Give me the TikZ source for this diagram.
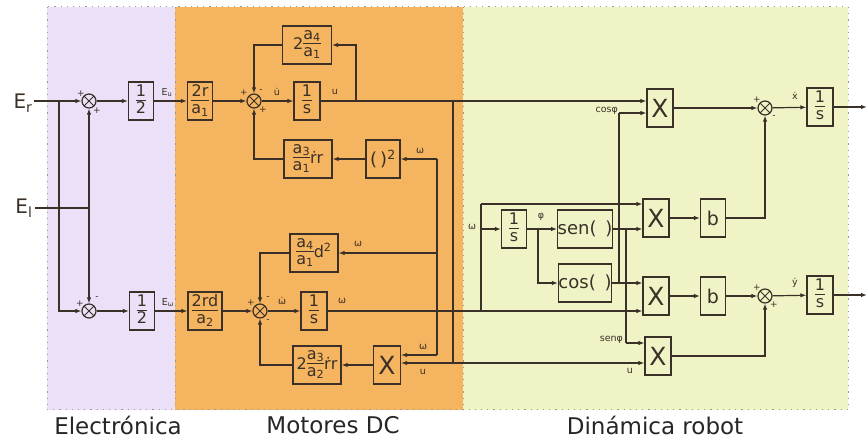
\documentclass[tikz,border=0pt]{standalone}
\usepackage{fontspec}
\setmainfont{DejaVu Sans}
\usetikzlibrary{arrows.meta}
\definecolor{lav}{HTML}{ECE0F8}
\definecolor{org}{HTML}{F5B45F}
\definecolor{ylw}{HTML}{F0F3C6}
\definecolor{ln}{HTML}{3A3028}
\newcommand{\fr}[2]{{\renewcommand{\arraystretch}{0.8}\setlength{\arrayrulewidth}{0.7pt}\begin{tabular}{@{}c@{}}#1\\\hline\rule{0pt}{12.5pt}#2\end{tabular}}}
\begin{document}
\begin{tikzpicture}[x=1pt,y=-1pt,line width=1.2pt,
  blk/.style={draw=ln,inner sep=0pt,minimum height=38pt,text=ln,font=\fontsize{16}{17}\selectfont},
  bigx/.style={blk,font=\fontsize{25}{25}\selectfont},
  sumn/.style={circle,draw=ln,minimum size=14pt,inner sep=0pt,
    path picture={\draw[ln,line width=0.9pt] (path picture bounding box.north west) -- (path picture bounding box.south east)
      (path picture bounding box.north east) -- (path picture bounding box.south west);}},
  arr/.style={draw=ln,-{Latex[length=6pt,width=4.5pt]}},
  wire/.style={draw=ln},
  lbl/.style={text=ln,inner sep=0.5pt,font=\fontsize{9.5}{10}\selectfont},
  sg/.style={text=ln,inner sep=0pt,font=\fontsize{9}{9}\selectfont},
  reg/.style={text=black!85,font=\fontsize{23}{23}\selectfont}]
\useasboundingbox (0,0) rectangle (868,438);
% regions
\fill[lav] (47,7) rectangle (175,410);
\fill[org] (175,7) rectangle (463,410);
\fill[ylw] (463,7) rectangle (848,410);
\draw[gray!80,line width=1pt,dash pattern=on 1.2pt off 5pt] (47,7) rectangle (848,410) (175,7) -- (175,410) (463,7) -- (463,410);
\node[reg] (tE) at (118,425) {Electrónica};
\node[reg] (tM) at (333,425) {Motores DC};
\node[reg] (tD) at (655,425) {Dinámica robot};
% inputs
\node[text=ln,inner sep=0pt,anchor=base east,font=\fontsize{20}{20}\selectfont] (Er) at (33,109) {E\textsubscript{r}};
\node[text=ln,inner sep=0pt,anchor=base east,font=\fontsize{20}{20}\selectfont] (El) at (33,214) {E\textsubscript{l}};
\coordinate (ErO) at (34,101);
\coordinate (ElO) at (35,208);
% blocks
\node[sumn] (s1) at (89,101) {};
\node[sumn] (s2) at (89,311) {};
\node[blk,minimum width=25pt] (h1) at (141,101) {\fr{1}{2}};
\node[blk,minimum width=25pt] (h2) at (142,311) {\fr{1}{2}};
\node[blk,minimum width=25pt] (k1) at (200,101) {\fr{2r}{a\textsubscript{1}}};
\node[blk,minimum width=34pt] (k2) at (205,311) {\fr{2rd}{a\textsubscript{2}}};
\node[sumn] (s3) at (254,101) {};
\node[sumn] (s4) at (260,311) {};
\node[blk,minimum width=49pt] (f1) at (307,45) {2\fr{a\textsubscript{4}}{a\textsubscript{1}}};
\node[blk,minimum width=26pt] (i1) at (307,101) {\fr{1}{s}};
\node[blk,minimum width=48pt] (g1) at (308,159) {\fr{a\textsubscript{3}}{a\textsubscript{1}}ṙr};
\node[blk,minimum width=34pt,font=\fontsize{18}{18}\selectfont] (sq) at (383,159) {(\hspace{3pt})\textsuperscript{2}};
\node[blk,minimum width=48pt] (f2) at (314,253) {\fr{a\textsubscript{4}}{a\textsubscript{1}}d\textsuperscript{2}};
\node[blk,minimum width=26pt] (i2) at (314,311) {\fr{1}{s}};
\node[blk,minimum width=48pt] (g2) at (317,365) {2\fr{a\textsubscript{3}}{a\textsubscript{2}}ṙr};
\node[bigx,minimum width=27pt] (xm) at (387,365) {X};
\node[blk,minimum width=25pt] (i3) at (514,229) {\fr{1}{s}};
\node[blk,minimum width=53pt,font=\fontsize{18}{18}\selectfont] (sen) at (585,229) {sen(\ \,)};
\node[blk,minimum width=53pt,font=\fontsize{18}{18}\selectfont] (cos) at (585,283) {cos(\ \,)};
\node[bigx,minimum width=26pt] (X0) at (660,108) {X};
\node[bigx,minimum width=26pt] (X1) at (656,218) {X};
\node[bigx,minimum width=26pt] (X2) at (656,296) {X};
\node[bigx,minimum width=26pt] (X3) at (658,356) {X};
\node[blk,minimum width=25pt,font=\fontsize{19}{19}\selectfont] (b1) at (713,218) {b};
\node[blk,minimum width=25pt,font=\fontsize{19}{19}\selectfont] (b2) at (713,296) {b};
\node[sumn] (sx) at (765,108) {};
\node[sumn] (sy) at (765,296) {};
\node[blk,minimum width=26pt] (ix) at (820,107) {\fr{1}{s}};
\node[blk,minimum width=26pt] (iy) at (820,295) {\fr{1}{s}};
\coordinate (ox) at (867,107);
\coordinate (oy) at (867,295);
% signs
\node[sg] (p1a) at (81,94) {+};
\node[sg] (p1b) at (97,111) {+};
\node[sg] (p2a) at (80,304) {+};
\node[sg] (p2b) at (97,298) {-};
\node[sg] (p3a) at (244,93) {+};
\node[sg] (p3b) at (261,91) {-};
\node[sg] (p3c) at (263,110) {+};
\node[sg] (p4a) at (251,303) {+};
\node[sg] (p4b) at (268,298) {-};
\node[sg] (p4c) at (268,321) {-};
\node[sg] (pxa) at (757,100) {+};
\node[sg] (pxb) at (774,117) {-};
\node[sg] (pya) at (757,288) {+};
\node[sg] (pyb) at (774,305) {+};
% labels
\node[lbl] (lEu) at (167,93) {E\textsubscript{u}};
\node[lbl] (lEw) at (168,303) {E\textsubscript{ω}};
\node[lbl] (lud) at (277,92) {u̇};
\node[lbl] (lu) at (335,92) {u};
\node[lbl] (lwd) at (282,301) {ω̇};
\node[lbl] (lw) at (342,301) {ω};
\node[lbl] (lw1) at (420,151) {ω};
\node[lbl] (lw2) at (358,244) {ω};
\node[lbl] (lw3) at (423,347) {ω};
\node[lbl] (lu3) at (423,372) {u};
\node[lbl] (lw4) at (472,227) {ω};
\node[lbl] (lphi) at (541,217) {φ};
\node[lbl,anchor=east] (lcos) at (619,111) {cosφ};
\node[lbl,anchor=east] (lsen) at (624,340) {senφ};
\node[lbl] (lu4) at (630,371) {u};
\node[lbl] (lxd) at (795,96) {ẋ};
\node[lbl] (lyd) at (795,283) {ẏ};
% electronics wiring
\coordinate (j1) at (59,101);
\coordinate (j2) at (89,208);
\draw[arr] (ErO) -- (s1);
\draw[arr] (j1) |- (s2);
\draw[wire] (ElO) -- (j2);
\draw[arr] (j2) -- (s1);
\draw[arr] (j2) -- (s2);
\draw[arr] (s1) -- (h1);
\draw[arr] (h1) -- (k1);
\draw[arr] (s2) -- (h2);
\draw[arr] (h2) -- (k2);
% motor u
\draw[arr] (k1) -- (s3);
\draw[arr] (s3) -- (i1);
\draw[arr] (i1) -- (i1.east -| X0.west);
\coordinate (ju) at (356,101);
\draw[arr] (ju) |- (f1);
\draw[arr] (f1) -| (s3);
\draw[arr] (sq) -- (g1);
\draw[arr] (g1) -| (s3);
\coordinate (ju2) at (453,101);
\coordinate (ju3) at (453,363);
\draw[wire] (ju2) -- (ju3);
\draw[arr] (ju3) -- (ju3 -| xm.east);
\draw[arr] (ju3) -- (ju3 -| X3.west);
% motor omega
\draw[arr] (k2) -- (s4);
\draw[arr] (s4) -- (i2);
\draw[arr] (i2) -- (i2.east -| X2.west);
\coordinate (jw1) at (437,159);
\coordinate (jw2) at (437,253);
\coordinate (jw3) at (437,355);
\draw[wire] (jw1) -- (jw3);
\draw[arr] (jw1) -- (sq);
\draw[arr] (jw2) -- (f2);
\draw[arr] (jw3) -- (jw3 -| xm.east);
\draw[arr] (f2) -| (s4);
\draw[arr] (xm) -- (g2);
\draw[arr] (g2) -| (s4);
% robot
\coordinate (jr1) at (481,311);
\coordinate (jr2) at (481,204);
\coordinate (jr3) at (481,229);
\draw[wire] (jr1) -- (jr2);
\draw[arr] (jr2) -- (jr2 -| X1.west);
\draw[arr] (jr3) -- (i3);
\draw[arr] (i3) -- (sen);
\coordinate (jp) at (538,229);
\draw[arr] (jp) |- (cos);
\draw[arr] (sen) -- (sen.east -| X1.west);
\coordinate (js) at (626,229);
\coordinate (js2) at (626,343);
\draw[wire] (js) -- (js2);
\draw[arr] (js2) -- (js2 -| X3.west);
\draw[arr] (cos) -- (cos.east -| X2.west);
\coordinate (jc) at (619,283);
\coordinate (jc2) at (619,113);
\draw[wire] (jc) -- (jc2);
\draw[arr] (jc2) -- (jc2 -| X0.west);
\draw[arr] (X0) -- (sx);
\draw[arr] (X1) -- (b1);
\draw[arr] (b1) -| (sx);
\draw[arr] (X2) -- (b2);
\draw[arr] (b2) -- (sy);
\draw[arr] (X3) -| (sy);
\draw[arr] (sx) -- (ix);
\draw[arr] (ix) -- (ox);
\draw[arr] (sy) -- (iy);
\draw[arr] (iy) -- (oy);
\end{tikzpicture}
\end{document}
